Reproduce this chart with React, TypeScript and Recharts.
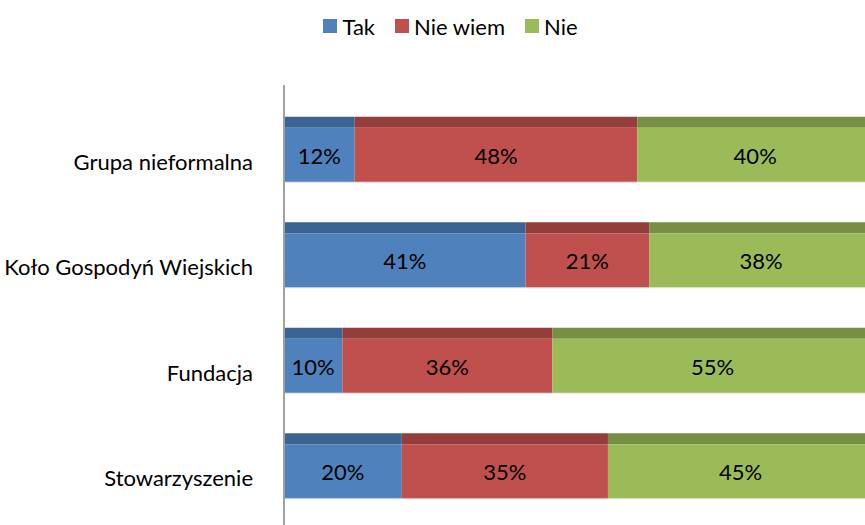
import React from 'react';
import { BarChart, Bar, XAxis, YAxis, Legend, LabelList } from 'recharts';

const categories = ['Grupa nieformalna', 'Koło Gospodyń Wiejskich', 'Fundacja', 'Stowarzyszenie'];
const takValues = [12, 41, 10, 20];
const nieWiemValues = [48, 21, 36, 35];
const nieValues = [40, 38, 55, 45];
const seriesNames = ['Tak', 'Nie wiem', 'Nie'];
const seriesKeys = ['tak', 'nieWiem', 'nie'];
const seriesColors = ['#4F81BD', '#C0504D', '#9BBB59'];
const seriesTopColors = ['#3D6392', '#943E3B', '#778F45'];

const data = categories.map((c, i) => ({
  name: c,
  tak: takValues[i],
  nieWiem: nieWiemValues[i],
  nie: nieValues[i],
}));

const FONT = 'Lato, "Noto Sans", sans-serif';
const DEPTH = 11;

const make3DShape = (fill: string, top: string) => (props: any) => {
  const { x, y, width, height } = props;
  if (!width || width <= 0) return <g />;
  return (
    <g>
      <rect x={x} y={y} width={width} height={DEPTH} fill={top} />
      <rect x={x} y={y + DEPTH} width={width} height={height - DEPTH} fill={fill} />
      <rect x={x} y={y + height} width={width} height={1} fill={fill} fillOpacity={0.25} />
    </g>
  );
};

const renderLabel = (props: any) => {
  const { x, y, width, value } = props;
  return (
    <text
      x={x + width / 2}
      y={y + 47}
      textAnchor="middle"
      fontFamily={FONT}
      fontSize={22}
      fill="#000"
    >
      {value}%
    </text>
  );
};

const YTick = (props: any) => {
  const { x, y, payload } = props;
  return (
    <text x={x} y={y + 20} textAnchor="end" fontFamily={FONT} fontSize={22} fill="#000">
      {payload.value}
    </text>
  );
};

const LegendContent = () => (
  <div
    style={{
      display: 'flex',
      justifyContent: 'center',
      alignItems: 'center',
      height: 32,
      fontFamily: FONT,
      fontSize: 22,
      color: '#000',
    }}
  >
    {seriesNames.map((n, i) => (
      <div key={n} style={{ display: 'flex', alignItems: 'center', marginRight: i < 2 ? 20 : 0 }}>
        <span style={{ display: 'inline-block', width: 14, height: 14, background: seriesColors[i], marginRight: 5 }} />
        <span>{n}</span>
      </div>
    ))}
  </div>
);

export default function App() {
  return (
    <div style={{ position: 'fixed', left: 0, top: 0, width: 865, height: 525, overflow: 'hidden', background: '#fff' }}>
      <BarChart
        width={873}
        height={525}
        data={data}
        layout="vertical"
        stackOffset="expand"
        margin={{ top: 53, right: 0, bottom: 0, left: 0 }}
        barSize={65}
      >
        <Legend
          verticalAlign="top"
          content={<LegendContent />}
          wrapperStyle={{ top: 10, left: 0, width: 901, height: 32 }}
        />
        <XAxis type="number" hide domain={[0, 1]} />
        <YAxis
          type="category"
          dataKey="name"
          width={284}
          tickLine={false}
          tickMargin={25}
          axisLine={{ stroke: '#A0A0A0', strokeWidth: 2 }}
          tick={<YTick />}
          padding={{ top: 11.75, bottom: 6.25 }}
        />
        {seriesKeys.map((k, i) => (
          <Bar
            key={k}
            dataKey={k}
            name={seriesNames[i]}
            stackId="a"
            fill={seriesColors[i]}
            isAnimationActive={false}
            shape={make3DShape(seriesColors[i], seriesTopColors[i])}
          >
            <LabelList dataKey={k} content={renderLabel} />
          </Bar>
        ))}
      </BarChart>
    </div>
  );
}
